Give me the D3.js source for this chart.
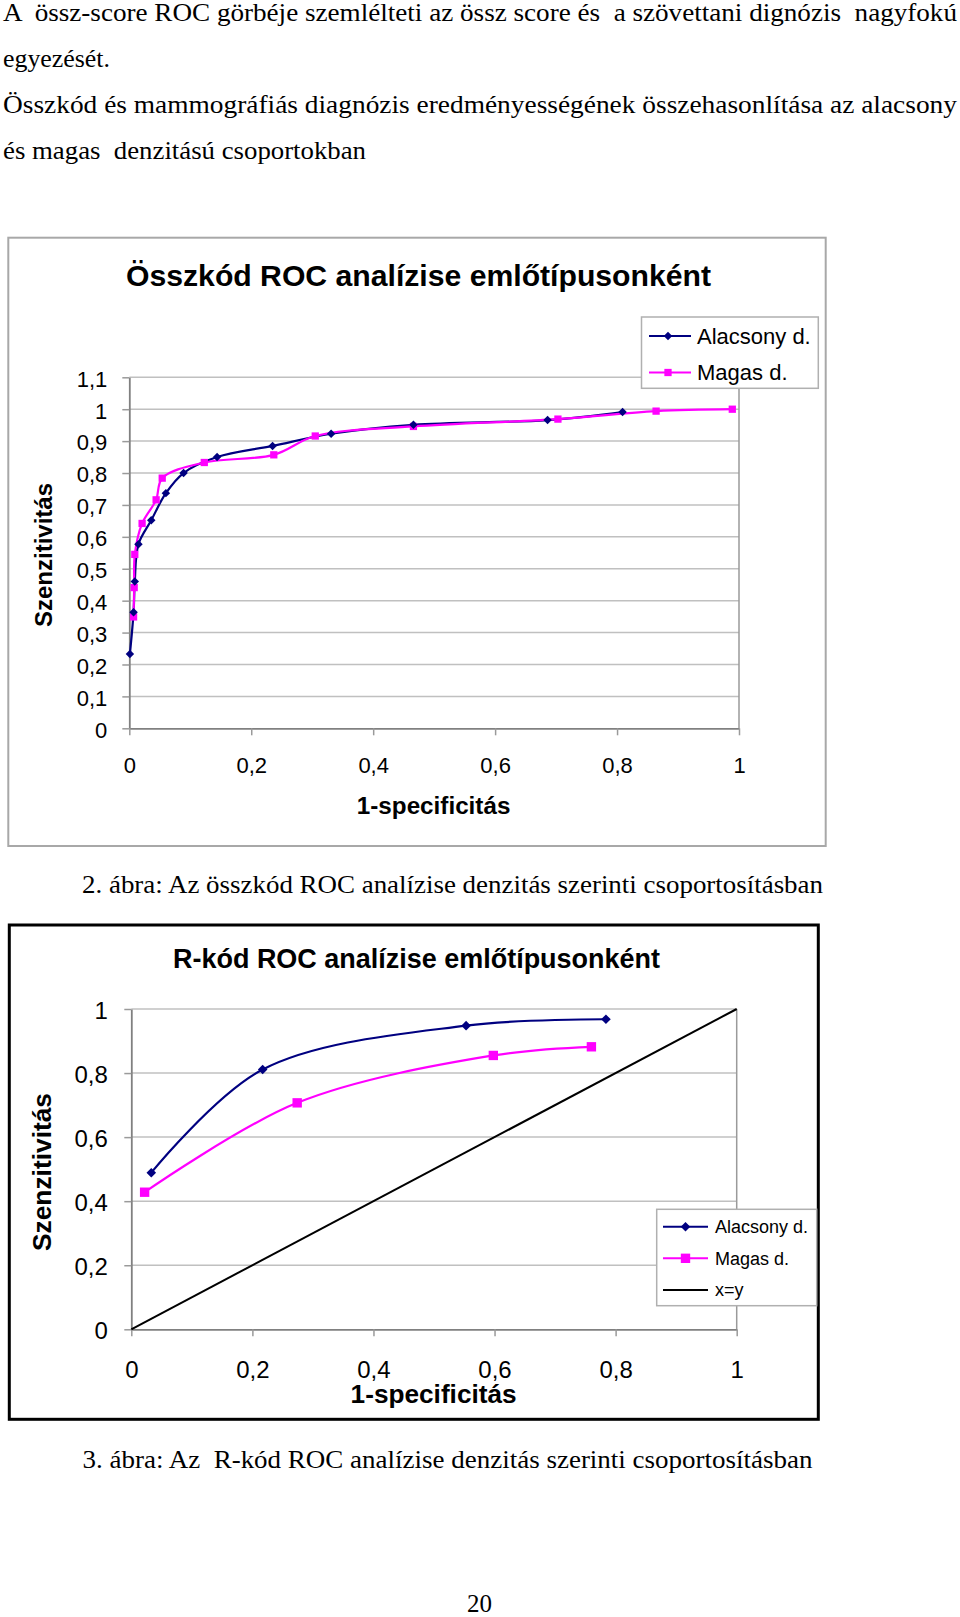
<!DOCTYPE html>
<html><head><meta charset="utf-8">
<script src="https://cdn.jsdelivr.net/npm/d3@7"></script>
<style>body{margin:0;background:#fff} svg{display:block} text{white-space:pre}</style>
</head><body>
<svg id="page" width="960" height="1617"></svg>
<script>
// ---------- texts ----------
const bodyLines = [
  "A  össz-score ROC görbéje szemlélteti az össz score és  a szövettani dignózis  nagyfokú",
  "egyezését.",
  "Összkód és mammográfiás diagnózis eredményességének összehasonlítása az alacsony",
  "és magas  denzitású csoportokban"
];
const caption2 = "2. ábra: Az összkód ROC analízise denzitás szerinti csoportosításban";
const caption3 = "3. ábra: Az  R-kód ROC analízise denzitás szerinti csoportosításban";
const pageNumber = "20";
const title1 = "Összkód ROC analízise emlőtípusonként";
const title2 = "R-kód ROC analízise emlőtípusonként";
const yTitle = "Szenzitivitás";
const xTitle = "1-specificitás";
const seriesNames = ["Alacsony d.", "Magas d."];
const diagonalName = "x=y";

// ---------- tick values ----------
const yTicks1 = [0, 0.1, 0.2, 0.3, 0.4, 0.5, 0.6, 0.7, 0.8, 0.9, 1, 1.1];
const xTicks = [0, 0.2, 0.4, 0.6, 0.8, 1];
const yTicks2 = [0, 0.2, 0.4, 0.6, 0.8, 1];

// ---------- chart 1 data (Összkód) ----------
const lowX1  = [0.001, 0.007, 0.009, 0.015, 0.036, 0.060, 0.089, 0.144, 0.235, 0.331, 0.466, 0.686, 0.809];
const lowY1  = [0.233, 0.364, 0.460, 0.577, 0.652, 0.737, 0.800, 0.850, 0.885, 0.923, 0.951, 0.966, 0.991];
const highX1 = [0.007, 0.008, 0.009, 0.021, 0.044, 0.054, 0.123, 0.237, 0.305, 0.466, 0.703, 0.864, 0.989];
const highY1 = [0.349, 0.441, 0.545, 0.642, 0.716, 0.784, 0.833, 0.857, 0.916, 0.946, 0.969, 0.994, 1.000];

// ---------- chart 2 data (R-kód) ----------
const lowX2  = [0.033, 0.217, 0.553, 0.784];
const lowY2  = [0.489, 0.811, 0.948, 0.968];
const highX2 = [0.022, 0.274, 0.598, 0.760];
const highY2 = [0.428, 0.707, 0.855, 0.882];
const diagX  = [0, 1];
const diagY  = [0, 1];

const NAVY = "#000080", MAGENTA = "#ff00ff";
const SANS = "'Liberation Sans', Arial, sans-serif";
const SERIF = "'Liberation Serif', 'Times New Roman', serif";
const fmt = d => (Math.round(d * 10) / 10).toString().replace(".", ",");

const svg = d3.select("#page");
svg.append("rect").attr("width", 960).attr("height", 1617).attr("fill", "#fff");

function txt(s, x, y, opts) {
  const t = svg.append("text").attr("x", x).attr("y", y).text(s)
    .attr("font-family", opts.family || SERIF)
    .attr("font-size", opts.size)
    .attr("font-weight", opts.weight || "normal")
    .attr("text-anchor", opts.anchor || "start")
    .attr("fill", "#000");
  if (opts.len) t.attr("textLength", opts.len).attr("lengthAdjust", "spacingAndGlyphs");
  return t;
}

// body text
const bodyBase = [21, 67, 113, 159];
const bodyLen = [954, 107, 954, 363];
bodyLines.forEach((s, i) => txt(s, 3, bodyBase[i], {size: 25, len: bodyLen[i]}));
txt(caption2, 82, 893, {size: 25, len: 741});
txt(caption3, 82.5, 1468, {size: 25, len: 730});
txt(pageNumber, 479.5, 1612, {size: 25, anchor: "middle"});

function series(xs, ys) { return xs.map((x, i) => [x, ys[i]]); }

function drawChart(cfg) {
  const x = d3.scaleLinear().domain([0, 1]).range([cfg.x0, cfg.x1]);
  const y = d3.scaleLinear().domain([0, cfg.yMax]).range([cfg.y0, cfg.y1]);
  const g = svg.append("g");

  // outer chart frame
  g.append("rect").attr("x", cfg.box[0]).attr("y", cfg.box[1])
    .attr("width", cfg.box[2]).attr("height", cfg.box[3])
    .attr("fill", "none").attr("stroke", cfg.boxColor).attr("stroke-width", cfg.boxWidth);

  // gridlines
  g.append("g").selectAll("line").data(cfg.yTicks.filter(d => d > 0)).join("line")
    .attr("x1", cfg.x0).attr("x2", cfg.x1)
    .attr("y1", d => y(d)).attr("y2", d => y(d))
    .attr("stroke", "#c0c0c0").attr("stroke-width", 1.5);
  // right border of plot area
  g.append("line").attr("x1", cfg.x1).attr("x2", cfg.x1)
    .attr("y1", cfg.y1).attr("y2", cfg.y0)
    .attr("stroke", "#9a9a9a").attr("stroke-width", 1.5);

  // axes
  const ya = g.append("g").attr("transform", `translate(${cfg.x0},0)`)
    .call(d3.axisLeft(y).tickValues(cfg.yTicks).tickFormat(fmt)
      .tickSize(7).tickSizeOuter(0).tickPadding(cfg.yPad));
  const xa = g.append("g").attr("transform", `translate(0,${cfg.y0})`)
    .call(d3.axisBottom(x).tickValues(xTicks).tickFormat(fmt)
      .tickSize(7).tickSizeOuter(0).tickPadding(cfg.xPad));
  [ya, xa].forEach(a => {
    a.attr("font-family", SANS).attr("font-size", cfg.tickSize);
    a.select(".domain").attr("stroke", "#808080").attr("stroke-width", 1.8);
    a.selectAll(".tick line").attr("stroke", "#9a9a9a").attr("stroke-width", 1.5);
    a.selectAll(".tick text").attr("fill", "#000");
  });
  ya.selectAll(".tick text").attr("dy", "0.40em");

  // titles
  txt(cfg.title, cfg.titleX, cfg.titleY, {family: SANS, size: cfg.titleSize, weight: "bold", anchor: "middle", len: cfg.titleLen});
  txt(xTitle, cfg.xTitleX, cfg.xTitleY, {family: SANS, size: cfg.axisTitleSize, weight: "bold", anchor: "middle", len: cfg.xTitleLen});
  svg.append("text").attr("transform", `translate(${cfg.yTitleX},${cfg.yTitleY}) rotate(-90)`)
    .attr("dy", "0.36em").attr("text-anchor", "middle")
    .attr("font-family", SANS).attr("font-size", cfg.axisTitleSize).attr("font-weight", "bold")
    .attr("textLength", cfg.yTitleLen).attr("lengthAdjust", "spacingAndGlyphs")
    .text(yTitle);

  const line = d3.line().x(d => x(d[0])).y(d => y(d[1])).curve(d3.curveCatmullRom.alpha(0.5));
  if (cfg.diag) {
    g.append("path").attr("d", d3.line().x(d => x(d[0])).y(d => y(d[1]))(cfg.diag))
      .attr("fill", "none").attr("stroke", "#000").attr("stroke-width", 2);
  }
  const diamond = d3.symbol(d3.symbolSquare, cfg.diamondSize);
  const square = d3.symbol(d3.symbolSquare, cfg.squareSize);
  [[cfg.low, NAVY], [cfg.high, MAGENTA]].forEach(([data, col]) => {
    g.append("path").attr("d", line(data)).attr("fill", "none")
      .attr("stroke", col).attr("stroke-width", 2.2);
  });
  [[cfg.high, MAGENTA, "square"], [cfg.low, NAVY, "diamond"]].forEach(([data, col, shape]) => {
    g.append("g").selectAll("path").data(data).join("path")
      .attr("d", shape === "diamond" ? diamond() : square())
      .attr("transform", d => `translate(${x(d[0])},${y(d[1])})` + (shape === "diamond" ? " rotate(45)" : ""))
      .attr("fill", col);
  });

  // legend
  const L = cfg.legend;
  g.append("rect").attr("x", L.x).attr("y", L.y).attr("width", L.w).attr("height", L.h)
    .attr("fill", "#fff").attr("stroke", "#b0b0b0").attr("stroke-width", 1.5);
  const items = [[seriesNames[0], NAVY, "diamond"], [seriesNames[1], MAGENTA, "square"]];
  if (cfg.diag) items.push([diagonalName, "#000", null]);
  items.forEach(([name, col, shape], i) => {
    const cy = L.rows[i];
    g.append("line").attr("x1", L.lx0).attr("x2", L.lx1).attr("y1", cy).attr("y2", cy)
      .attr("stroke", col).attr("stroke-width", 2);
    if (shape) {
      g.append("path").attr("d", shape === "diamond" ? diamond() : square())
        .attr("transform", `translate(${L.mx},${cy})` + (shape === "diamond" ? " rotate(45)" : ""))
        .attr("fill", col);
    }
    svg.append("text").attr("x", L.tx).attr("y", cy).attr("dy", "0.36em")
      .attr("font-family", SANS).attr("font-size", L.size).attr("fill", "#000").text(name);
  });
}

drawChart({
  x0: 129.3, x1: 739, y0: 728.3, y1: 377.3, yMax: 1.1, yTicks: yTicks1,
  box: [8.3, 237.7, 817.4, 608.3], boxColor: "#a8a8a8", boxWidth: 2,
  tickSize: 22, yPad: 15, xPad: 22.4,
  title: title1, titleX: 418.5, titleY: 286, titleSize: 30, titleLen: 585,
  xTitleX: 433.6, xTitleY: 814, xTitleLen: 153.6, axisTitleSize: 23,
  yTitleX: 44, yTitleY: 555, yTitleLen: 144,
  low: series(lowX1, lowY1), high: series(highX1, highY1),
  diamondSize: 36, squareSize: 53,
  legend: {x: 641.5, y: 317, w: 176.8, h: 71.3, rows: [336, 372.5], lx0: 649, lx1: 691, mx: 668, tx: 697, size: 22}
});

drawChart({
  x0: 131.3, x1: 736.7, y0: 1329.3, y1: 1009, yMax: 1, yTicks: yTicks2,
  box: [9.3, 925, 809, 494.3], boxColor: "#000", boxWidth: 3,
  tickSize: 24, yPad: 16.5, xPad: 24.5,
  title: title2, titleX: 416.5, titleY: 968, titleSize: 27, titleLen: 487,
  xTitleX: 433.6, xTitleY: 1403, xTitleLen: 166, axisTitleSize: 26,
  yTitleX: 41.3, yTitleY: 1172, yTitleLen: 158,
  low: series(lowX2, lowY2), high: series(highX2, highY2), diag: series(diagX, diagY),
  diamondSize: 46, squareSize: 88,
  legend: {x: 656.7, y: 1209.3, w: 160, h: 96.4, rows: [1226.7, 1258.3, 1290], lx0: 663, lx1: 708, mx: 685.5, tx: 715, size: 18}
});
</script>
</body></html>
